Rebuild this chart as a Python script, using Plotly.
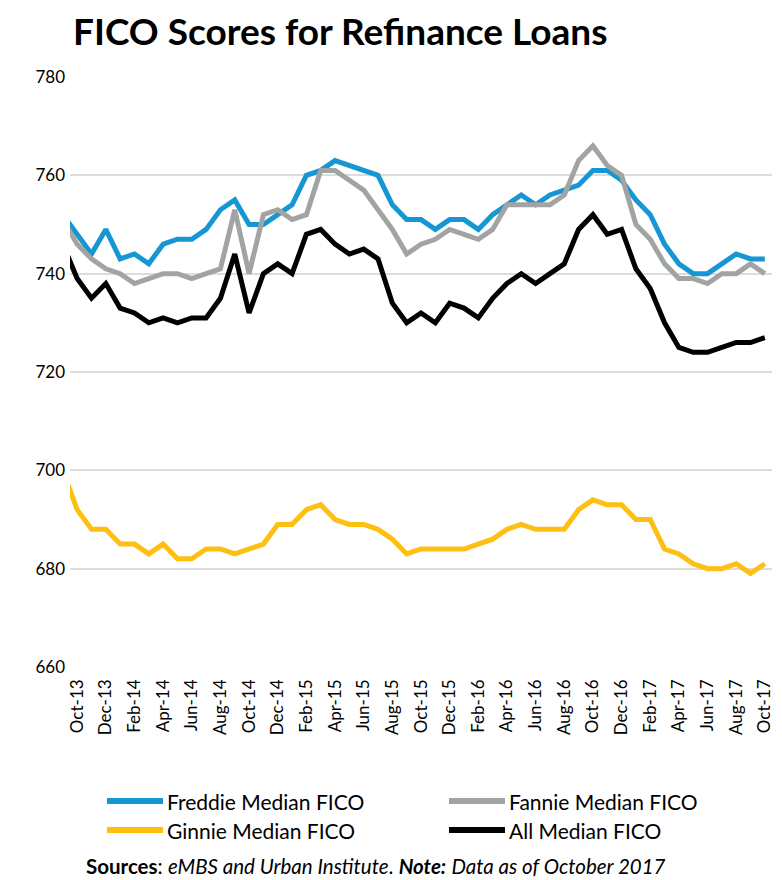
import plotly.graph_objects as go

months = ["Sep-13", "Oct-13", "Nov-13", "Dec-13", "Jan-14", "Feb-14", "Mar-14", "Apr-14", "May-14", "Jun-14",
          "Jul-14", "Aug-14", "Sep-14", "Oct-14", "Nov-14", "Dec-14", "Jan-15", "Feb-15", "Mar-15", "Apr-15",
          "May-15", "Jun-15", "Jul-15", "Aug-15", "Sep-15", "Oct-15", "Nov-15", "Dec-15", "Jan-16", "Feb-16",
          "Mar-16", "Apr-16", "May-16", "Jun-16", "Jul-16", "Aug-16", "Sep-16", "Oct-16", "Nov-16", "Dec-16",
          "Jan-17", "Feb-17", "Mar-17", "Apr-17", "May-17", "Jun-17", "Jul-17", "Aug-17", "Sep-17", "Oct-17"]

freddie = [752, 748, 744, 749, 743, 744, 742, 746, 747, 747, 749, 753, 755, 750, 750, 752, 754, 760, 761, 763,
           762, 761, 760, 754, 751, 751, 749, 751, 751, 749, 752, 754, 756, 754, 756, 757, 758, 761, 761, 759,
           755, 752, 746, 742, 740, 740, 742, 744, 743, 743]
fannie = [751, 746, 743, 741, 740, 738, 739, 740, 740, 739, 740, 741, 753, 740, 752, 753, 751, 752, 761, 761,
          759, 757, 753, 749, 744, 746, 747, 749, 748, 747, 749, 754, 754, 754, 754, 756, 763, 766, 762, 760,
          750, 747, 742, 739, 739, 738, 740, 740, 742, 740]
ginnie = [700, 692, 688, 688, 685, 685, 683, 685, 682, 682, 684, 684, 683, 684, 685, 689, 689, 692, 693, 690,
          689, 689, 688, 686, 683, 684, 684, 684, 684, 685, 686, 688, 689, 688, 688, 688, 692, 694, 693, 693,
          690, 690, 684, 683, 681, 680, 680, 681, 679, 681]
all_fico = [746, 739, 735, 738, 733, 732, 730, 731, 730, 731, 731, 735, 744, 732, 740, 742, 740, 748, 749, 746,
            744, 745, 743, 734, 730, 732, 730, 734, 733, 731, 735, 738, 740, 738, 740, 742, 749, 752, 748, 749,
            741, 737, 730, 725, 724, 724, 725, 726, 726, 727]

series_names = ["Freddie Median FICO", "Fannie Median FICO", "Ginnie Median FICO", "All Median FICO"]
series_values = [freddie, fannie, ginnie, all_fico]
series_colors = ["#1696d2", "#a2a4a3", "#fdbf11", "#000000"]

y_ticks = [660, 680, 700, 720, 740, 760, 780]
x_tick_labels = months[1::2]

FONT = "Lato, 'Open Sans', sans-serif"

# The page body adds an 8px offset; the figure is sized to fill the rest of the window.
OFF = 8
W, H = 782 - OFF, 880 - OFF
ML, MR, MT, MB = 70 - OFF, 10, 77 - OFF, 213
PW, PH = W - ML - MR, H - MT - MB


def px_to_paper(px, py):
    # px, py are positions in the 782x880 window
    return (px - OFF - ML) / PW, (H - MB - (py - OFF)) / PH


fig = go.Figure()
for name, vals, col in zip(series_names, series_values, series_colors):
    fig.add_trace(go.Scatter(x=months, y=vals, name=name, mode="lines",
                             line=dict(color=col, width=5), hoverinfo="skip", showlegend=False))

fig.update_layout(
    width=W, height=H,
    margin=dict(l=ML, r=MR, t=MT, b=MB),
    paper_bgcolor="white", plot_bgcolor="white",
    font=dict(family=FONT, color="#000000"),
    title=dict(text="<b>FICO Scores for Refinance Loans</b>", x=(73 - OFF) / W, xref="container",
               y=1 - (32 - OFF) / H, yref="container", yanchor="middle", xanchor="left",
               font=dict(size=37, family=FONT, color="#000000")),
    xaxis=dict(type="category", range=[0.5, 49.5], tickmode="array", tickvals=x_tick_labels,
               ticktext=x_tick_labels, tickangle=-90, tickfont=dict(size=17, family=FONT),
               showgrid=False, zeroline=False, showline=False, ticks="", ticklabelstandoff=8,
               automargin=False),
    yaxis=dict(range=[660, 780], tickmode="array", tickvals=y_ticks, tickfont=dict(size=17, family=FONT),
               showgrid=True, gridcolor="#dcdcdc", gridwidth=2, zeroline=False, showline=False, ticks="",
               ticklabelstandoff=4, automargin=False),
    showlegend=False,
)

# Manual legend: two columns, two rows
legend_layout = [(107, 801), (449, 801), (107, 830), (449, 830)]
for (sx, sy), name, col in zip(legend_layout, series_names, series_colors):
    x0, y0 = px_to_paper(sx, sy)
    x1, _ = px_to_paper(sx + 56, sy)
    xt, _ = px_to_paper(sx + 58, sy)
    fig.add_shape(type="line", xref="paper", yref="paper", x0=x0, x1=x1, y0=y0, y1=y0,
                  line=dict(color=col, width=6))
    fig.add_annotation(text=name, xref="paper", yref="paper", x=xt, y=y0, xanchor="left", yanchor="middle",
                       showarrow=False, font=dict(size=21, family=FONT, color="#000000"))

sx, sy = px_to_paper(376, 866)
fig.add_annotation(text="<b>Sources</b>: <i>eMBS and Urban Institute</i>. <b><i>Note:</i></b> <i>Data as of October 2017</i>",
                   xref="paper", yref="paper", x=sx, y=sy, xanchor="center", yanchor="middle",
                   showarrow=False, font=dict(size=20.5, family=FONT, color="#000000"))

fig.write_html("out.html")
